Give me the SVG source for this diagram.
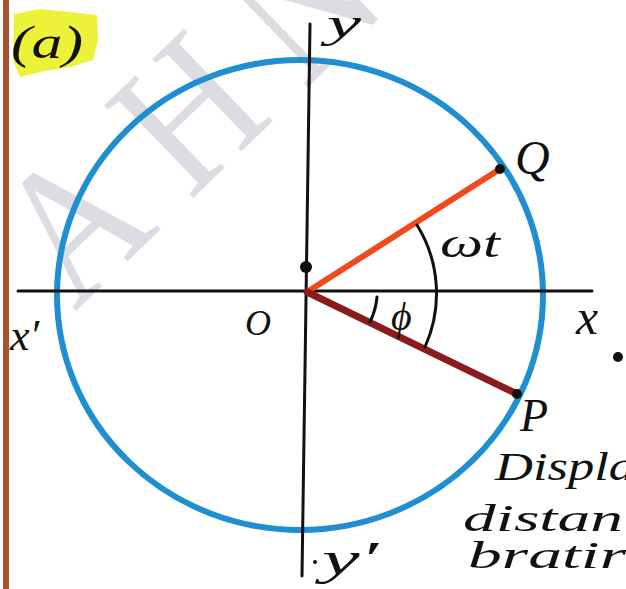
<svg xmlns="http://www.w3.org/2000/svg" width="626" height="589" viewBox="0 0 626 589">
<style>
.hand{font-family:"Liberation Serif","DejaVu Serif",serif;font-style:italic;fill:#111}
.axis{stroke:#111;stroke-width:3;fill:none;stroke-linecap:round}
.arc{stroke:#111;stroke-width:3;fill:none;stroke-linecap:round}
.dot{fill:#111}
</style>
<rect x="0" y="0" width="626" height="589" fill="#ffffff"/>
<rect id="border" x="3" y="0" width="6" height="589" fill="#a5532b"/>
<g id="watermark" transform="translate(75,312) rotate(-44) scale(0.85,1)">
<text x="0" y="0" font-family="Liberation Serif, serif" font-size="196" letter-spacing="46" fill="#dcdce2">AHN</text>
</g>
<g id="label-a">
<path d="M14,14 L40,9 L70,12 L97,15 L98,40 L93,60 L70,67 L45,71 L20,77 L13,60 Z" fill="#ecf23a"/>
<text class="hand" x="11" y="58" font-size="46" textLength="72" lengthAdjust="spacingAndGlyphs">(a)</text>
</g>
<g id="circle">
<ellipse cx="300" cy="295" rx="243" ry="235" fill="none" stroke="#1f8fd2" stroke-width="6"/>
</g>
<g id="axes">
<line class="axis" x1="18" y1="291" x2="592" y2="291"/>
<line class="axis" x1="310" y1="24" x2="302" y2="576"/>
</g>
<g id="connectors">
<line x1="307" y1="292" x2="500" y2="169" stroke="#f2491c" stroke-width="6" stroke-linecap="round"/>
<line x1="307" y1="292" x2="517" y2="394" stroke="#8a1c1c" stroke-width="7" stroke-linecap="round"/>
<path class="arc" d="M417,225 A130,130 0 0 1 425,347"/>
<path class="arc" d="M377,297 A70,70 0 0 1 370,322"/>
</g>
<g id="node-O">
<circle class="dot" cx="306" cy="267" r="6"/>
<text class="hand" x="245" y="335" font-size="36">O</text>
</g>
<g id="node-Q">
<circle class="dot" cx="500" cy="169" r="5"/>
<text class="hand" x="515" y="174" font-size="48">Q</text>
</g>
<g id="node-P">
<circle class="dot" cx="517" cy="394" r="5"/>
<text class="hand" x="520" y="431" font-size="46">P</text>
</g>
<g id="labels">
<text class="hand" x="327" y="37" font-size="40" textLength="34" lengthAdjust="spacingAndGlyphs">y</text>
<text class="hand" x="440" y="257" font-size="42" textLength="60" lengthAdjust="spacingAndGlyphs">ωt</text>
<text class="hand" x="391" y="330" font-size="40">ϕ</text>
<text class="hand" x="10" y="350" font-size="44">x′</text>
<text class="hand" x="576" y="334" font-size="50">x</text>
<circle class="dot" cx="618" cy="357" r="5"/>
<circle class="dot" cx="315" cy="562" r="2"/>
<text class="hand" x="322" y="574" font-size="46" textLength="56" lengthAdjust="spacingAndGlyphs">y′</text>
<text class="hand" x="495" y="480" font-size="40" textLength="140" lengthAdjust="spacingAndGlyphs">Displa</text>
<text class="hand" x="463" y="531" font-size="38" textLength="160" lengthAdjust="spacingAndGlyphs">distan</text>
<text class="hand" x="468" y="568" font-size="38" textLength="158" lengthAdjust="spacingAndGlyphs">bratir</text>
</g>
</svg>
